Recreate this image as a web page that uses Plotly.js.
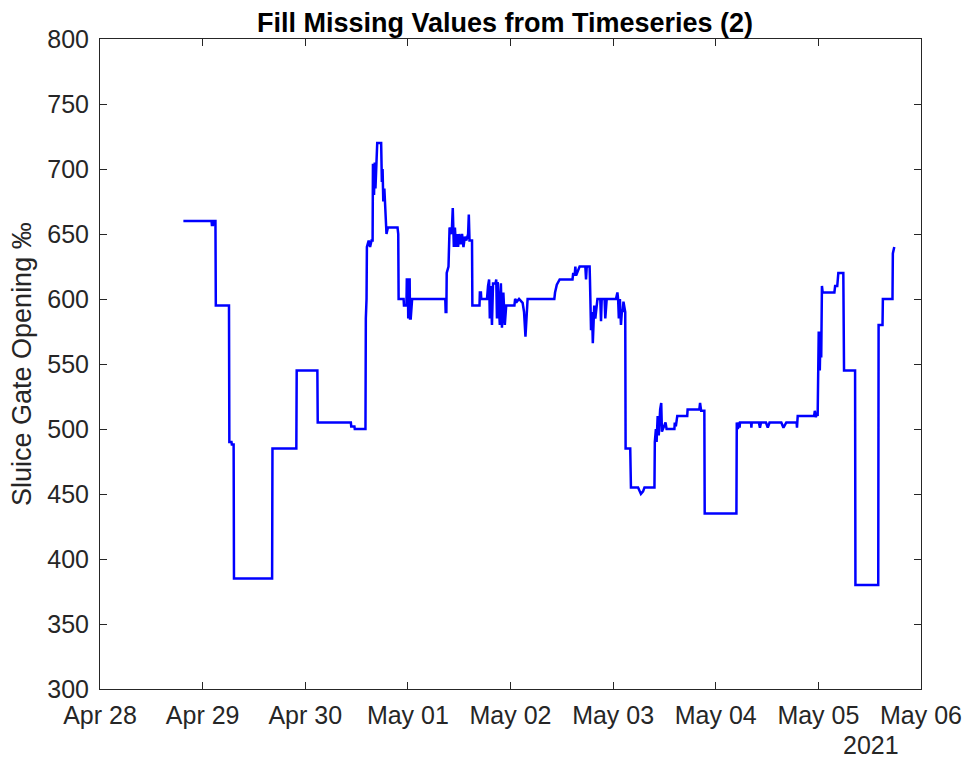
<!DOCTYPE html>
<html>
<head>
<meta charset="utf-8">
<script src="https://cdn.plot.ly/plotly-3.0.1.min.js"></script>
<style>html,body{margin:0;padding:0;background:#fff;}#chart{width:968px;height:762px;}</style>
</head>
<body>
<div id="chart"></div>
<script>
const times = [
"2021-04-28 19:30","2021-04-29 02:05","2021-04-29 02:10","2021-04-29 02:25","2021-04-29 02:30","2021-04-29 03:00",
"2021-04-29 03:05","2021-04-29 06:10","2021-04-29 06:15","2021-04-29 06:45","2021-04-29 06:50","2021-04-29 07:15",
"2021-04-29 07:20","2021-04-29 16:15","2021-04-29 16:20","2021-04-29 21:55","2021-04-29 22:00","2021-04-30 02:50",
"2021-04-30 02:55","2021-04-30 10:40","2021-04-30 10:45","2021-04-30 11:30","2021-04-30 11:35","2021-04-30 14:05",
"2021-04-30 14:10","2021-04-30 14:20","2021-04-30 14:25","2021-04-30 14:50","2021-04-30 15:10","2021-04-30 15:30",
"2021-04-30 15:45","2021-04-30 15:50","2021-04-30 16:05","2021-04-30 16:15","2021-04-30 16:25","2021-04-30 16:40",
"2021-04-30 16:50","2021-04-30 17:45","2021-04-30 17:55","2021-04-30 18:05","2021-04-30 18:15","2021-04-30 18:30",
"2021-04-30 18:45","2021-04-30 19:00","2021-04-30 19:20","2021-04-30 21:35","2021-04-30 21:45","2021-04-30 21:50",
"2021-04-30 23:00","2021-04-30 23:05","2021-04-30 23:40","2021-04-30 23:45","2021-05-01 00:00","2021-05-01 00:05",
"2021-05-01 00:15","2021-05-01 00:25","2021-05-01 00:30","2021-05-01 00:40","2021-05-01 01:00","2021-05-01 08:45",
"2021-05-01 08:50","2021-05-01 09:00","2021-05-01 09:05","2021-05-01 09:30","2021-05-01 09:45","2021-05-01 10:15",
"2021-05-01 10:30","2021-05-01 10:45","2021-05-01 11:00","2021-05-01 11:15","2021-05-01 11:30","2021-05-01 11:45",
"2021-05-01 12:00","2021-05-01 12:20","2021-05-01 12:40","2021-05-01 13:00","2021-05-01 13:20","2021-05-01 13:40",
"2021-05-01 14:05","2021-05-01 14:15","2021-05-01 14:25","2021-05-01 15:00","2021-05-01 15:05","2021-05-01 16:45",
"2021-05-01 16:50","2021-05-01 17:05","2021-05-01 17:10","2021-05-01 18:30","2021-05-01 18:45","2021-05-01 19:00",
"2021-05-01 19:10","2021-05-01 19:20","2021-05-01 19:40","2021-05-01 19:55","2021-05-01 20:30","2021-05-01 20:40",
"2021-05-01 20:50","2021-05-01 21:00","2021-05-01 21:30","2021-05-01 21:45","2021-05-01 22:00","2021-05-01 22:20",
"2021-05-01 22:40","2021-05-01 23:00","2021-05-02 00:55","2021-05-02 01:05","2021-05-02 01:30","2021-05-02 02:00",
"2021-05-02 02:50","2021-05-02 03:10","2021-05-02 03:30","2021-05-02 03:45","2021-05-02 04:00","2021-05-02 10:15",
"2021-05-02 10:25","2021-05-02 10:50","2021-05-02 11:30","2021-05-02 14:30","2021-05-02 14:40","2021-05-02 15:00",
"2021-05-02 15:10","2021-05-02 15:20","2021-05-02 16:10","2021-05-02 17:30","2021-05-02 17:40","2021-05-02 17:50",
"2021-05-02 18:30","2021-05-02 18:35","2021-05-02 18:50","2021-05-02 19:05","2021-05-02 19:15","2021-05-02 19:35",
"2021-05-02 19:50","2021-05-02 20:20","2021-05-02 21:00","2021-05-02 21:10","2021-05-02 21:20","2021-05-02 22:00",
"2021-05-02 22:10","2021-05-02 22:30","2021-05-02 23:50","2021-05-03 00:40","2021-05-03 01:00","2021-05-03 01:10",
"2021-05-03 01:20","2021-05-03 01:35","2021-05-03 01:50","2021-05-03 02:05","2021-05-03 02:15","2021-05-03 02:25",
"2021-05-03 02:50","2021-05-03 02:55","2021-05-03 04:00","2021-05-03 04:10","2021-05-03 05:50","2021-05-03 06:10",
"2021-05-03 06:30","2021-05-03 07:00","2021-05-03 07:20","2021-05-03 09:40","2021-05-03 09:45","2021-05-03 10:00",
"2021-05-03 10:10","2021-05-03 10:25","2021-05-03 10:40","2021-05-03 11:00","2021-05-03 11:15","2021-05-03 11:25",
"2021-05-03 11:40","2021-05-03 12:15","2021-05-03 12:30","2021-05-03 14:20","2021-05-03 14:25","2021-05-03 14:40",
"2021-05-03 15:00","2021-05-03 17:20","2021-05-03 17:25","2021-05-03 20:10","2021-05-03 20:20","2021-05-03 20:35",
"2021-05-03 21:20","2021-05-03 21:25","2021-05-04 04:50","2021-05-04 04:55","2021-05-04 05:10","2021-05-04 05:20",
"2021-05-04 05:30","2021-05-04 05:35","2021-05-04 05:40","2021-05-04 08:15","2021-05-04 08:20","2021-05-04 08:25",
"2021-05-04 10:05","2021-05-04 10:20","2021-05-04 10:35","2021-05-04 11:45","2021-05-04 12:10","2021-05-04 12:35",
"2021-05-04 15:20","2021-05-04 15:50","2021-05-04 16:30","2021-05-04 18:55","2021-05-04 19:00","2021-05-04 19:05",
"2021-05-04 19:10","2021-05-04 23:00","2021-05-04 23:10","2021-05-04 23:25","2021-05-04 23:35","2021-05-04 23:50",
"2021-05-04 23:55","2021-05-05 00:05","2021-05-05 00:10","2021-05-05 00:15","2021-05-05 00:20","2021-05-05 00:30",
"2021-05-05 00:40","2021-05-05 00:50","2021-05-05 01:00","2021-05-05 03:45","2021-05-05 03:55","2021-05-05 04:25",
"2021-05-05 04:40","2021-05-05 05:50","2021-05-05 06:00","2021-05-05 08:35","2021-05-05 08:40","2021-05-05 14:00",
"2021-05-05 14:05","2021-05-05 15:00","2021-05-05 15:05","2021-05-05 17:20","2021-05-05 17:25","2021-05-05 17:45"
];
const opening = [
660,660,657,657,660,660,
595,595,490,490,488,488,
385,385,485,485,545,545,
505,505,502,502,500,500,
585,600,640,645,640,645,
645,704,680,705,685,710,
720,720,690,700,675,685,
660,650,655,655,650,600,
600,595,595,615,615,585,
615,615,585,585,600,600,
590,590,620,625,655,650,
670,640,655,640,650,640,
650,642,650,640,648,645,
650,665,645,645,595,595,
605,605,600,600,610,615,
585,610,580,612,612,615,
585,613,580,612,578,605,
580,595,595,600,598,600,
597,590,571,590,600,600,
605,611,615,615,620,618,
625,618,625,625,615,625,
625,615,576,590,566,595,
585,600,600,583,600,600,
585,600,600,600,605,600,
585,600,580,592,590,598,
590,485,485,455,455,452,
450,452,455,455,490,500,
490,510,495,515,520,498,
500,505,500,500,505,502,
510,510,515,515,520,514,
514,435,435,505,500,505,
505,501,505,505,501,505,
505,501,505,505,501,505,
505,501,505,505,501,505,
510,510,514,509,512,510,
545,575,550,570,545,575,
555,610,605,605,610,610,
620,620,545,545,380,380,
580,580,600,600,635,640
];
const tickDates = ["2021-04-28","2021-04-29","2021-04-30","2021-05-01","2021-05-02","2021-05-03","2021-05-04","2021-05-05","2021-05-06"];
const tickLabels = ["Apr 28","Apr 29","Apr 30","May 01","May 02","May 03","May 04","May 05","May 06"];
const yTicks = [300,350,400,450,500,550,600,650,700,750,800];

const axisColor = "#262626";
const fontFam = "Liberation Sans, Arial, Helvetica, sans-serif";

const trace = {
  x: times, y: opening, type: "scatter", mode: "lines",
  line: {color: "#0000ff", width: 2.5},
  hoverinfo: "skip"
};

const layout = {
  width: 968, height: 762,
  margin: {l: 100, r: 47, t: 39, b: 73, pad: 0},
  paper_bgcolor: "#ffffff", plot_bgcolor: "#ffffff",
  showlegend: false,
  font: {family: fontFam, color: axisColor},
  title: {
    text: "<b>Fill Missing Values from Timeseries (2)</b>",
    font: {family: fontFam, size: 27, color: "#000000"},
    x: (505-100)/821, xanchor: "center", xref: "paper",
    y: 1 - 23/762, yanchor: "middle", yref: "container"
  },
  xaxis: {
    type: "date",
    range: ["2021-04-28", "2021-05-06"],
    tickvals: tickDates, ticktext: tickLabels,
    ticks: "inside", ticklen: 7, tickwidth: 1, tickcolor: axisColor,
    showline: true, linecolor: axisColor, linewidth: 1, mirror: "ticks",
    showgrid: false, zeroline: false,
    ticklabelstandoff: 4,
    tickfont: {family: fontFam, size: 25, color: axisColor}
  },
  yaxis: {
    range: [300, 800],
    tickvals: yTicks,
    ticks: "inside", ticklen: 7, tickwidth: 1, tickcolor: axisColor,
    showline: true, linecolor: axisColor, linewidth: 1, mirror: "ticks",
    showgrid: false, zeroline: false,
    ticklabelstandoff: 5,
    tickfont: {family: fontFam, size: 25, color: axisColor}
  },
  annotations: [
    {text: "Sluice Gate Opening ‰", xref: "paper", yref: "paper",
     x: -(100-22)/821, y: 0.5, xanchor: "center", yanchor: "middle",
     textangle: -90, showarrow: false,
     font: {family: fontFam, size: 27, color: axisColor}},
    {text: "2021", xref: "paper", yref: "paper",
     x: (871-100)/821, y: -(745-689)/650, xanchor: "center", yanchor: "middle",
     showarrow: false,
     font: {family: fontFam, size: 25, color: axisColor}}
  ]
};

Plotly.newPlot("chart", [trace], layout, {displayModeBar: false, staticPlot: true});
</script>
</body>
</html>
